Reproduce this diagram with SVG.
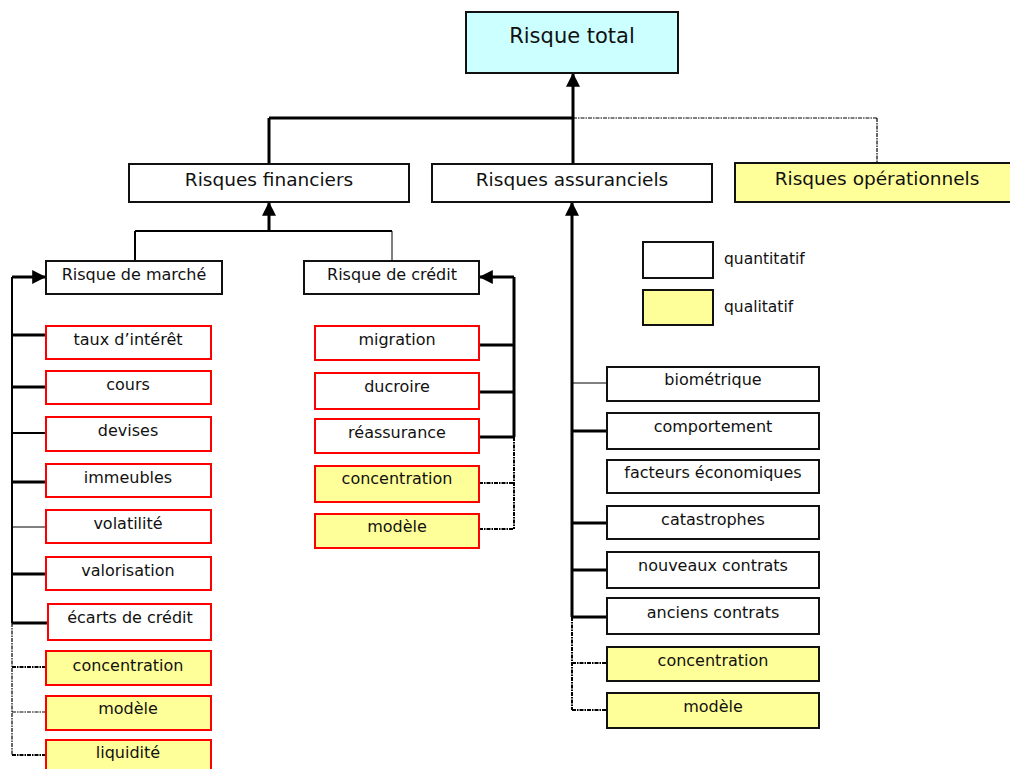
<svg xmlns="http://www.w3.org/2000/svg" width="1010" height="769" viewBox="0 0 1010 769">
  <style>
    text { font-family: "DejaVu Sans", Verdana, sans-serif; fill: #111; text-anchor: middle; }
    .top { font-size: 21px; }
    .lvl1 { font-size: 18.5px; }
    .lvl2 { font-size: 16px; }
    .item { font-size: 16px; }
    .legend { font-size: 15.5px; text-anchor: start; }
    .box { fill: #fff; stroke: #111; stroke-width: 2; }
    .total { fill: #ccffff; stroke: #111; stroke-width: 2; }
    .qual { fill: #ffff99; stroke: #111; stroke-width: 2; }
    .rbox { fill: #fff; stroke: #ff0000; stroke-width: 2; }
    .rqual { fill: #ffff99; stroke: #ff0000; stroke-width: 2; }
    .thick { stroke: #000; stroke-width: 3; fill: none; }
    .mid { stroke: #000; stroke-width: 2; fill: none; }
    .thin { stroke: #000; stroke-width: 1; fill: none; }
    .dd { stroke: #000; stroke-width: 2; fill: none; stroke-dasharray: 4 1 1.5 1; }
    .ddt { stroke: #000; stroke-width: 1.2; fill: none; stroke-dasharray: 4 1 1.5 1; }
  </style>
  <defs>
    <marker id="arrow" markerUnits="userSpaceOnUse" markerWidth="14" markerHeight="14" viewBox="0 0 12 12" refX="11" refY="6" orient="auto">
      <path d="M0,0 L12,6 L0,12 Z" fill="#000"/>
    </marker>
  </defs>

  <!-- connectors -->
  <g id="connectors">
    <!-- level 1 to total -->
    <line class="thick" x1="269" y1="118" x2="573" y2="118"/>
    <line class="thick" x1="269" y1="118" x2="269" y2="164"/>
    <line class="ddt" x1="573" y1="118" x2="877" y2="118"/>
    <line class="ddt" x1="877" y1="118" x2="877" y2="163"/>
    <line class="thick" x1="573" y1="163" x2="573" y2="74" marker-end="url(#arrow)"/>

    <!-- level 2 to financiers -->
    <line class="thick" x1="269" y1="231" x2="269" y2="203" marker-end="url(#arrow)"/>
    <line class="mid" x1="135" y1="231" x2="392" y2="231"/>
    <line class="mid" x1="135" y1="231" x2="135" y2="261"/>
    <line class="thin" x1="392" y1="231" x2="392" y2="261"/>

    <!-- market risk bus -->
    <line class="mid" x1="12" y1="277" x2="12" y2="623"/>
    <line class="ddt" x1="12" y1="623" x2="12" y2="755"/>
    <line class="thick" x1="12" y1="277" x2="45" y2="277" marker-end="url(#arrow)"/>
    <line class="thick" x1="12" y1="335" x2="46" y2="335"/>
    <line class="thick" x1="12" y1="387" x2="46" y2="387"/>
    <line class="mid" x1="12" y1="433" x2="46" y2="433"/>
    <line class="thick" x1="12" y1="482" x2="46" y2="482"/>
    <line class="thin" x1="12" y1="527" x2="46" y2="527"/>
    <line class="thick" x1="12" y1="574" x2="46" y2="574"/>
    <line class="thick" x1="12" y1="623" x2="48" y2="623"/>
    <line class="dd" x1="12" y1="667" x2="46" y2="667"/>
    <line class="ddt" x1="12" y1="712" x2="46" y2="712"/>
    <line class="dd" x1="12" y1="755" x2="46" y2="755"/>

    <!-- credit risk bus -->
    <line class="thick" x1="514" y1="277" x2="514" y2="437"/>
    <line class="dd" x1="514" y1="437" x2="514" y2="529"/>
    <line class="thick" x1="514" y1="277" x2="480" y2="277" marker-end="url(#arrow)"/>
    <line class="thick" x1="479" y1="345" x2="514" y2="345"/>
    <line class="thick" x1="479" y1="392" x2="514" y2="392"/>
    <line class="thick" x1="479" y1="437" x2="514" y2="437"/>
    <line class="dd" x1="479" y1="483" x2="514" y2="483"/>
    <line class="dd" x1="479" y1="529" x2="514" y2="529"/>

    <!-- insurance risk bus -->
    <line class="thick" x1="572" y1="617" x2="572" y2="203" marker-end="url(#arrow)"/>
    <line class="dd" x1="572" y1="617" x2="572" y2="710"/>
    <line class="thin" x1="572" y1="383" x2="607" y2="383"/>
    <line class="thick" x1="572" y1="431" x2="607" y2="431"/>
    <line class="thick" x1="572" y1="523" x2="607" y2="523"/>
    <line class="thick" x1="572" y1="570" x2="607" y2="570"/>
    <line class="thick" x1="572" y1="617" x2="607" y2="617"/>
    <line class="dd" x1="572" y1="663" x2="607" y2="663"/>
    <line class="dd" x1="572" y1="710" x2="607" y2="710"/>
  </g>

  <!-- top -->
  <g id="risque-total">
    <rect class="total" x="466" y="12" width="212" height="61"/>
    <text class="top" x="572" y="43">Risque total</text>
  </g>

  <!-- level 1 -->
  <g id="risques-financiers">
    <rect class="box" x="129" y="164" width="280" height="38"/>
    <text class="lvl1" x="269" y="186">Risques financiers</text>
  </g>
  <g id="risques-assuranciels">
    <rect class="box" x="432" y="164" width="280" height="38"/>
    <text class="lvl1" x="572" y="186">Risques assuranciels</text>
  </g>
  <g id="risques-operationnels">
    <rect class="qual" x="735" y="163" width="290" height="39"/>
    <text class="lvl1" x="877" y="185">Risques opérationnels</text>
  </g>

  <!-- level 2 -->
  <g id="risque-marche">
    <rect class="box" x="46" y="261" width="176" height="33"/>
    <text class="lvl2" x="134" y="280">Risque de marché</text>
  </g>
  <g id="risque-credit">
    <rect class="box" x="304" y="261" width="175" height="33"/>
    <text class="lvl2" x="392" y="280">Risque de crédit</text>
  </g>

  <!-- market risk items -->
  <g id="m-taux"><rect class="rbox" x="46" y="326" width="165" height="33"/><text class="item" x="128" y="345">taux d’intérêt</text></g>
  <g id="m-cours"><rect class="rbox" x="46" y="371" width="165" height="33"/><text class="item" x="128" y="390">cours</text></g>
  <g id="m-devises"><rect class="rbox" x="46" y="417" width="165" height="34"/><text class="item" x="128" y="436">devises</text></g>
  <g id="m-immeubles"><rect class="rbox" x="46" y="464" width="165" height="33"/><text class="item" x="128" y="483">immeubles</text></g>
  <g id="m-volatilite"><rect class="rbox" x="46" y="510" width="165" height="33"/><text class="item" x="128" y="529">volatilité</text></g>
  <g id="m-valorisation"><rect class="rbox" x="46" y="557" width="165" height="33"/><text class="item" x="128" y="576">valorisation</text></g>
  <g id="m-ecarts"><rect class="rbox" x="48" y="604" width="163" height="36"/><text class="item" x="130" y="623">écarts de crédit</text></g>
  <g id="m-concentration"><rect class="rqual" x="46" y="651" width="165" height="34"/><text class="item" x="128" y="671">concentration</text></g>
  <g id="m-modele"><rect class="rqual" x="46" y="696" width="165" height="34"/><text class="item" x="128" y="714">modèle</text></g>
  <g id="m-liquidite"><rect class="rqual" x="46" y="740" width="165" height="34"/><text class="item" x="128" y="758">liquidité</text></g>

  <!-- credit risk items -->
  <g id="c-migration"><rect class="rbox" x="315" y="326" width="164" height="34"/><text class="item" x="397" y="345">migration</text></g>
  <g id="c-ducroire"><rect class="rbox" x="315" y="373" width="164" height="36"/><text class="item" x="397" y="392">ducroire</text></g>
  <g id="c-reassurance"><rect class="rbox" x="315" y="419" width="164" height="34"/><text class="item" x="397" y="438">réassurance</text></g>
  <g id="c-concentration"><rect class="rqual" x="315" y="466" width="164" height="36"/><text class="item" x="397" y="484">concentration</text></g>
  <g id="c-modele"><rect class="rqual" x="315" y="514" width="164" height="34"/><text class="item" x="397" y="532">modèle</text></g>

  <!-- insurance risk items -->
  <g id="a-biometrique"><rect class="box" x="607" y="367" width="212" height="34"/><text class="item" x="713" y="385">biométrique</text></g>
  <g id="a-comportement"><rect class="box" x="607" y="413" width="212" height="36"/><text class="item" x="713" y="432">comportement</text></g>
  <g id="a-facteurs"><rect class="box" x="607" y="460" width="212" height="33"/><text class="item" x="713" y="478">facteurs économiques</text></g>
  <g id="a-catastrophes"><rect class="box" x="607" y="506" width="212" height="33"/><text class="item" x="713" y="525">catastrophes</text></g>
  <g id="a-nouveaux"><rect class="box" x="607" y="552" width="212" height="36"/><text class="item" x="713" y="571">nouveaux contrats</text></g>
  <g id="a-anciens"><rect class="box" x="607" y="598" width="212" height="36"/><text class="item" x="713" y="618">anciens contrats</text></g>
  <g id="a-concentration"><rect class="qual" x="607" y="647" width="212" height="34"/><text class="item" x="713" y="666">concentration</text></g>
  <g id="a-modele"><rect class="qual" x="607" y="693" width="212" height="35"/><text class="item" x="713" y="712">modèle</text></g>

  <!-- legend -->
  <g id="legend">
    <rect class="box" x="643" y="242" width="70" height="36"/>
    <text class="legend" x="724" y="264">quantitatif</text>
    <rect class="qual" x="643" y="290" width="70" height="35"/>
    <text class="legend" x="724" y="312">qualitatif</text>
  </g>
</svg>
